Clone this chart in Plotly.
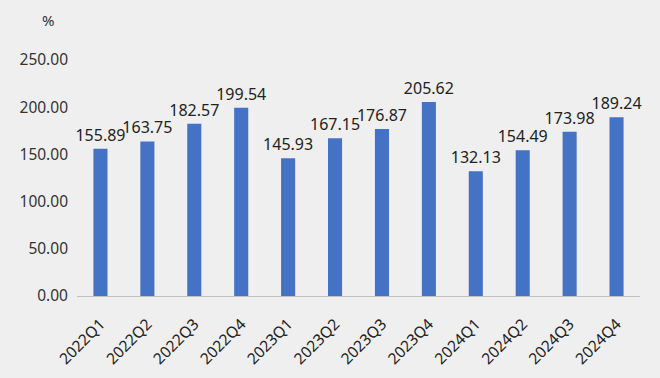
import plotly.graph_objects as go

quarters = ["2022Q1", "2022Q2", "2022Q3", "2022Q4",
            "2023Q1", "2023Q2", "2023Q3", "2023Q4",
            "2024Q1", "2024Q2", "2024Q3", "2024Q4"]
values = [155.89, 163.75, 182.57, 199.54,
          145.93, 167.15, 176.87, 205.62,
          132.13, 154.49, 173.98, 189.24]
y_ticks = [0, 50, 100, 150, 200, 250]

FONT = "Noto Sans, Open Sans, sans-serif"

fig = go.Figure()
fig.add_trace(go.Bar(
    x=quarters, y=values,
    marker=dict(color="#4472c4", line=dict(width=0)),
    width=0.3,
    text=[f"{v:.2f}" for v in values],
    textposition="outside",
    constraintext="none",
    textfont=dict(size=16, color="#222222", family=FONT),
    cliponaxis=False,
))

fig.update_layout(
    width=660, height=378,
    margin=dict(l=77, r=20, t=60, b=82),
    paper_bgcolor="#efefef",
    plot_bgcolor="#efefef",
    showlegend=False,
    font=dict(family=FONT, color="#333333"),
    xaxis=dict(
        tickangle=-45,
        tickfont=dict(size=15.5, color="#222222"),
        showline=True, linecolor="#bfbfbf", linewidth=1,
        showgrid=False, ticks="",
        ticklabelstandoff=12,
        automargin=False,
    ),
    yaxis=dict(
        range=[0, 250],
        tickvals=y_ticks,
        ticktext=[f"{t:.2f}" for t in y_ticks],
        tickfont=dict(size=15.5, color="#333333"),
        showgrid=False, zeroline=False, showline=False, ticks="",
        ticklabelstandoff=8,
        automargin=False,
    ),
    annotations=[dict(
        text="%", x=(48 - 77) / 563, y=(378 - 82 - 20) / 236,
        xref="paper", yref="paper", xanchor="center", yanchor="middle",
        showarrow=False, font=dict(size=15, color="#333333"),
    )],
)
fig.write_html("out.html", config={"displayModeBar": False},
               post_script="document.body.style.margin='0';document.body.style.background='#efefef';")
